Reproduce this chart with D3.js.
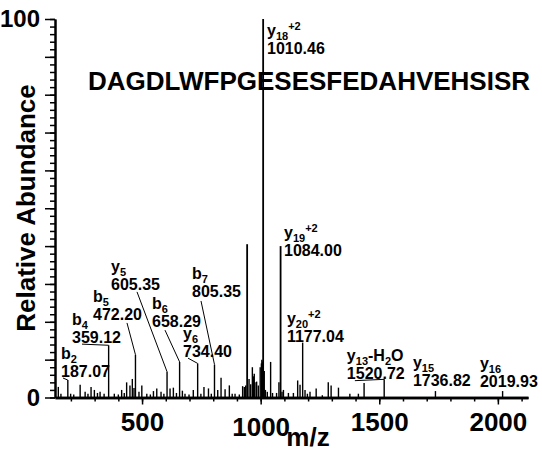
<!DOCTYPE html>
<html>
<head>
<meta charset="utf-8">
<script src="https://cdn.jsdelivr.net/npm/d3@7"></script>
<style>
    body { margin: 0; background: #fff; }
    text { font-family: "Liberation Sans", Arial, sans-serif; font-weight: bold; fill: #000; }
</style>
</head>
<body>
<div id="spectrum"></div>
<script>

// peak list: m/z and relative abundance (%)
const peakMz = [147, 158, 187.07, 199, 212, 239, 260, 272, 285, 299, 312, 323, 340, 359.12, 383, 400, 414, 425, 435, 449, 459, 466,
    472.20, 487, 499, 520, 535, 548, 562, 580, 592, 605.35, 618, 632, 645, 658.29, 670, 681, 698, 716, 734.40, 748, 761,
    780, 792, 805.35, 819, 833, 850, 868, 880, 892, 910, 924, 931, 937, 943, 951, 958, 965, 969, 973, 976, 983, 990, 998,
    1003, 1005, 1008, 1010.46, 1013, 1015, 1020, 1028, 1042, 1050, 1067, 1077, 1084.00, 1090, 1096, 1117, 1138, 1156, 1166,
    1177.04, 1187, 1197, 1208, 1234, 1260, 1285, 1297, 1328, 1376, 1412, 1436, 1520.72, 1736.82, 2019.93];
const peakInt = [2.8, 1.0, 4.6, 1.0, 0.8, 3.4, 1.5, 1.0, 2.8, 2.0, 1.2, 1.5, 1.0, 13.8, 1.0, 0.8, 2.0, 1.2, 4.0, 3.2, 4.9, 2.5,
    11.3, 1.5, 3.2, 1.0, 0.8, 1.7, 2.4, 1.5, 1.0, 6.8, 2.4, 2.6, 1.2, 9.4, 1.8, 1.0, 0.8, 2.0, 9.0, 1.0, 2.8,
    2.4, 1.0, 8.7, 2.0, 5.2, 2.2, 3.2, 1.0, 1.0, 0.8, 3.0, 2.8, 3.2, 40.5, 4.9, 3.5, 8.0, 5.6, 6.3, 4.0, 4.2, 3.2, 8.0,
    9.0, 10.0, 9.5, 100, 7.0, 7.0, 2.0, 1.5, 9.4, 1.2, 1.2, 4.0, 40.0, 1.5, 2.0, 1.2, 1.2, 4.5, 3.4,
    14.5, 2.0, 1.0, 1.5, 2.4, 0.6, 4.0, 3.2, 2.6, 1.0, 1.0, 3.8, 4.8, 1.7, 1.7];

// annotated fragment ions
const ionLabels = ['b_{2}', 'b_{4}', 'b_{5}', 'y_{5}', 'b_{6}', 'y_{6}', 'b_{7}', 'y_{18}^{+2}', 'y_{19}^{+2}',
    'y_{20}^{+2}', 'y_{13}-H_{2}O', 'y_{15}', 'y_{16}'];
const ionMz = [187.07, 359.12, 472.20, 605.35, 658.29, 734.40, 805.35, 1010.46, 1084.00, 1177.04, 1520.72, 1736.82, 2019.93];

const peptide = 'DAGDLWFPGESESFEDAHVEHSISR';

// axis ticks
const xMajor = [500, 1000, 1500, 2000];
const xMinor = d3.range(200, 2101, 100);
const yMajor = d3.range(0, 101, 10);
const yMinor = d3.range(0, 101, 2);
const yLabels = [0, 100];

// label placement (in axis units: m/z, %), kept apart from the data
const labelAt = [[158.3, 5.4], [204.7, 14.4], [293.2, 20.5], [369.1, 28.4], [541.9, 18.6], [672.6, 10.7], [710.5, 26.6],
    [1026.7, 90.8], [1098.4, 37.4], [1110.6, 14.6], [1363.4, 5.0], [1641.7, 3.0], [1924.4, 2.8]];
const leaderFrom = [[166.7, 5.15], [246.8, 14.1], [436.5, 19.7], [478.7, 27.9], [596.7, 17.8], [693.7, 10.4], [748.5, 25.5],
    null, null, null, [1397.1, 4.45], null, null];


class SpectrumVis {

    constructor(parentElement){
        this.parentElement = parentElement;
        this.initVis();
    }

    initVis(){
        let vis = this;

        vis.margin = {top: 19, right: 14, bottom: 57.5, left: 55};
        vis.width = 542 - vis.margin.left - vis.margin.right;
        vis.height = 455 - vis.margin.top - vis.margin.bottom;

        vis.svg = d3.select("#" + vis.parentElement).append("svg")
            .attr("width", 542)
            .attr("height", 455)
            .append('g')
            .attr('transform', `translate(${vis.margin.left}, ${vis.margin.top})`);

        vis.x = d3.scaleLinear().domain([133, 2127]).range([0, vis.width]);
        vis.y = d3.scaleLinear().domain([0, 100]).range([vis.height, 0]);

        vis.peakGroup = vis.svg.append('g').attr('class', 'peaks');
        vis.labelGroup = vis.svg.append('g').attr('class', 'labels');

        // y axis: minor + major ticks
        vis.svg.append('g')
            .attr('class', 'y-minor')
            .call(d3.axisLeft(vis.y).tickValues(yMinor).tickSize(5).tickSizeOuter(0).tickFormat(''));
        vis.svg.append('g')
            .attr('class', 'y-major')
            .call(d3.axisLeft(vis.y).tickValues(yMajor).tickSize(10).tickSizeOuter(0).tickPadding(5)
                .tickFormat(d => yLabels.includes(d) ? d : ''));

        // x axis
        vis.svg.append('g')
            .attr('class', 'x-minor')
            .attr('transform', `translate(0, ${vis.height})`)
            .call(d3.axisBottom(vis.x).tickValues(xMinor).tickSize(4).tickSizeOuter(0).tickFormat(''));
        vis.svg.append('g')
            .attr('class', 'x-major')
            .attr('transform', `translate(0, ${vis.height})`)
            .call(d3.axisBottom(vis.x).tickValues(xMajor).tickSize(7).tickSizeOuter(0).tickPadding(8)
                .tickFormat(d3.format('d')));

        vis.svg.selectAll('.tick line').attr('stroke', '#000').attr('stroke-width', 1.5);
        vis.svg.selectAll('.y-minor .domain, .y-major .domain').attr('stroke', '#000').attr('stroke-width', 2);
        vis.svg.selectAll('.x-minor .domain, .x-major .domain').attr('stroke', '#000').attr('stroke-width', 2.5);
        vis.svg.selectAll('.tick text')
            .style('font-family', '"Liberation Sans", Arial, sans-serif')
            .style('font-weight', 'bold')
            .style('font-size', '26px')
            .attr('fill', '#000');
        vis.svg.selectAll('.y-major .tick text').style('font-size', '24px');
        // the 1000 label sits a little lower in the original
        vis.svg.selectAll('.x-major .tick text').filter(d => d === 1000).attr('y', 20);

        // axis titles
        vis.svg.append('text')
            .attr('transform', `translate(${35 - vis.margin.left}, ${208 - vis.margin.top}) rotate(-90)`)
            .attr('text-anchor', 'middle')
            .style('font-size', '26px')
            .text('Relative Abundance');

        vis.svg.append('text')
            .attr('x', 253)
            .attr('y', vis.height + 48)
            .attr('text-anchor', 'middle')
            .style('font-size', '26px')
            .text('m/z');

        // peptide sequence
        vis.svg.append('text')
            .attr('x', 33)
            .attr('y', 71)
            .style('font-size', '26px')
            .text(peptide);

        this.wrangleData();
    }

    wrangleData(){
        let vis = this;

        vis.peaks = peakMz.map((mz, i) => ({mz: mz, int: peakInt[i]}));

        vis.ions = ionMz.map((mz, i) => {
            let p = vis.peaks.find(d => d.mz === mz);
            return {mz: mz, int: p ? p.int : 0, label: ionLabels[i], at: labelAt[i], from: leaderFrom[i]};
        });

        vis.updateVis();
    }

    updateVis(){
        let vis = this;

        vis.peakGroup.selectAll('line')
            .data(vis.peaks)
            .enter().append('line')
            .attr('x1', d => vis.x(d.mz))
            .attr('x2', d => vis.x(d.mz))
            .attr('y1', vis.y(0))
            .attr('y2', d => vis.y(d.int))
            .attr('stroke', '#000')
            .attr('stroke-width', d => d.int > 30 ? 1.8 : 1.4);

        // leader lines from label to peak top
        vis.labelGroup.selectAll('line')
            .data(vis.ions.filter(d => d.from))
            .enter().append('line')
            .attr('x1', d => vis.x(d.from[0]))
            .attr('y1', d => vis.y(d.from[1]))
            .attr('x2', d => vis.x(d.mz))
            .attr('y2', d => vis.y(d.int))
            .attr('stroke', '#000')
            .attr('stroke-width', 1);

        let lab = vis.labelGroup.selectAll('g.ion')
            .data(vis.ions)
            .enter().append('g')
            .attr('class', 'ion');

        // ion name with sub/superscripts
        lab.append('text')
            .attr('x', d => vis.x(d.at[0]))
            .attr('y', d => vis.y(d.at[1]) - 18)
            .style('font-size', '16px')
            .each(function(d){
                let t = d3.select(this);
                let shift = 0;
                d.label.split(/(_\{[^}]*\}|\^\{[^}]*\})/).filter(s => s.length).forEach(s => {
                    let target = 0, size = 16, str = s;
                    if (s[0] === '_') { target = 4; size = 11; str = s.slice(2, -1); }
                    if (s[0] === '^') { target = -6; size = 11; str = s.slice(2, -1); }
                    t.append('tspan')
                        .attr('dy', target - shift)
                        .style('font-size', size + 'px')
                        .text(str);
                    shift = target;
                });
            });

        lab.append('text')
            .attr('x', d => vis.x(d.at[0]))
            .attr('y', d => vis.y(d.at[1]))
            .style('font-size', '16px')
            .text(d => d.mz.toFixed(2));
    }
}

new SpectrumVis('spectrum');

</script>
</body>
</html>
